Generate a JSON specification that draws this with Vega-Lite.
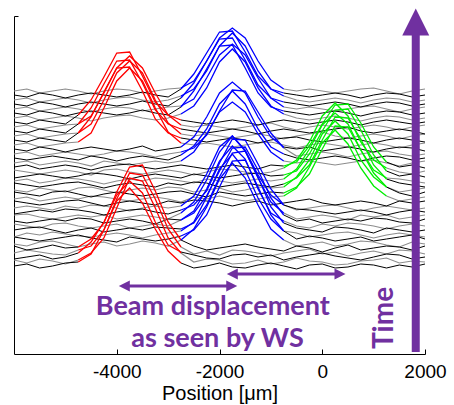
{
"$schema":"https://vega.github.io/schema/vega-lite/v6.json",
"width":411,"height":338,
"autosize":{"type":"none"},
"padding":{"left":14,"top":16,"right":29,"bottom":51},
"background":"white",
"config":{"view":{"stroke":null}},
"datasets":{
"k1":[
{"s":1,"x":-6000,"y":88},{"s":1,"x":-5750,"y":90},{"s":1,"x":-5500,"y":86},{"s":1,"x":-5250,"y":88},{"s":1,"x":-5000,"y":91},{"s":1,"x":-4750,"y":92},
{"s":101,"x":-2750,"y":91},{"s":101,"x":-2500,"y":86},{"s":101,"x":-2250,"y":88},{"s":101,"x":-2000,"y":91},{"s":101,"x":-1750,"y":87},{"s":101,"x":-1500,"y":86},{"s":101,"x":-1250,"y":89},{"s":101,"x":-1000,"y":91},{"s":101,"x":-750,"y":88},{"s":101,"x":-500,"y":85},{"s":101,"x":-250,"y":89},{"s":101,"x":0,"y":90},{"s":101,"x":250,"y":86},{"s":101,"x":500,"y":87},{"s":101,"x":750,"y":90},{"s":101,"x":1000,"y":89},{"s":101,"x":1250,"y":86},{"s":101,"x":1500,"y":89},{"s":101,"x":1750,"y":87},{"s":101,"x":2000,"y":90},
{"s":3,"x":-6000,"y":95},{"s":3,"x":-5750,"y":97},{"s":3,"x":-5500,"y":99},{"s":3,"x":-5250,"y":95},{"s":3,"x":-5000,"y":97},{"s":3,"x":-4750,"y":101},
{"s":103,"x":-2750,"y":102},{"s":103,"x":-2500,"y":99},{"s":103,"x":-2250,"y":96},{"s":103,"x":-2000,"y":95},{"s":103,"x":-1750,"y":99},{"s":103,"x":-1500,"y":100},{"s":103,"x":-1250,"y":97},{"s":103,"x":-1000,"y":99},{"s":103,"x":-750,"y":94},{"s":103,"x":-500,"y":97},{"s":103,"x":-250,"y":99},{"s":103,"x":0,"y":101},{"s":103,"x":250,"y":98},{"s":103,"x":500,"y":96},{"s":103,"x":750,"y":94},{"s":103,"x":1000,"y":97},{"s":103,"x":1250,"y":100},{"s":103,"x":1500,"y":99},{"s":103,"x":1750,"y":95},{"s":103,"x":2000,"y":97},
{"s":5,"x":-6000,"y":108},{"s":5,"x":-5750,"y":104},{"s":5,"x":-5500,"y":106},{"s":5,"x":-5250,"y":109},{"s":5,"x":-5000,"y":106},{"s":5,"x":-4750,"y":107},
{"s":105,"x":-2750,"y":114},{"s":105,"x":-2500,"y":108},{"s":105,"x":-2250,"y":104},{"s":105,"x":-2000,"y":106},{"s":105,"x":-1750,"y":108},{"s":105,"x":-1500,"y":110},{"s":105,"x":-1250,"y":107},{"s":105,"x":-1000,"y":105},{"s":105,"x":-750,"y":103},{"s":105,"x":-500,"y":108},{"s":105,"x":-250,"y":106},{"s":105,"x":0,"y":102},{"s":105,"x":250,"y":106},{"s":105,"x":500,"y":109},{"s":105,"x":750,"y":104},{"s":105,"x":1000,"y":106},{"s":105,"x":1250,"y":108},{"s":105,"x":1500,"y":107},{"s":105,"x":1750,"y":104},{"s":105,"x":2000,"y":108},
{"s":7,"x":-6000,"y":117},{"s":7,"x":-5750,"y":115},{"s":7,"x":-5500,"y":113},{"s":7,"x":-5250,"y":115},{"s":7,"x":-5000,"y":117},{"s":7,"x":-4750,"y":119},{"s":7,"x":-4500,"y":116},{"s":7,"x":-4250,"y":114},{"s":7,"x":-4000,"y":112},{"s":7,"x":-3750,"y":117},{"s":7,"x":-3500,"y":115},{"s":7,"x":-3250,"y":113},{"s":7,"x":-3000,"y":115},{"s":7,"x":-2750,"y":118},
{"s":107,"x":-750,"y":123},{"s":107,"x":-500,"y":115},{"s":107,"x":-250,"y":118},{"s":107,"x":0,"y":116},{"s":107,"x":250,"y":113},{"s":107,"x":500,"y":115},{"s":107,"x":750,"y":117},{"s":107,"x":1000,"y":113},{"s":107,"x":1250,"y":115},{"s":107,"x":1500,"y":117},{"s":107,"x":1750,"y":119},{"s":107,"x":2000,"y":115},
{"s":9,"x":-6000,"y":124},{"s":9,"x":-5750,"y":126},{"s":9,"x":-5500,"y":127},{"s":9,"x":-5250,"y":124},{"s":9,"x":-5000,"y":121},{"s":9,"x":-4750,"y":124},{"s":9,"x":-4500,"y":126},{"s":9,"x":-4250,"y":122},{"s":9,"x":-4000,"y":124},{"s":9,"x":-3750,"y":126},{"s":9,"x":-3500,"y":124},{"s":9,"x":-3250,"y":127},{"s":9,"x":-3000,"y":126},{"s":9,"x":-2750,"y":125},
{"s":109,"x":-750,"y":131},{"s":109,"x":-500,"y":126},{"s":109,"x":-250,"y":124},{"s":109,"x":0,"y":122},{"s":109,"x":250,"y":127},{"s":109,"x":500,"y":126},{"s":109,"x":750,"y":124},{"s":109,"x":1000,"y":121},{"s":109,"x":1250,"y":126},{"s":109,"x":1500,"y":124},{"s":109,"x":1750,"y":122},{"s":109,"x":2000,"y":124},
{"s":11,"x":-6000,"y":133},{"s":11,"x":-5750,"y":131},{"s":11,"x":-5500,"y":133},{"s":11,"x":-5250,"y":135},{"s":11,"x":-5000,"y":133},{"s":11,"x":-4750,"y":136},{"s":11,"x":-4500,"y":135},{"s":11,"x":-4250,"y":131},{"s":11,"x":-4000,"y":133},{"s":11,"x":-3750,"y":135},{"s":11,"x":-3500,"y":133},{"s":11,"x":-3250,"y":130},{"s":11,"x":-3000,"y":135},{"s":11,"x":-2750,"y":134},
{"s":111,"x":-750,"y":139},{"s":111,"x":-500,"y":133},{"s":111,"x":-250,"y":135},{"s":111,"x":0,"y":131},{"s":111,"x":250,"y":133},{"s":111,"x":500,"y":135},{"s":111,"x":750,"y":133},{"s":111,"x":1000,"y":136},{"s":111,"x":1250,"y":135},{"s":111,"x":1500,"y":132},{"s":111,"x":1750,"y":131},{"s":111,"x":2000,"y":135},
{"s":13,"x":-6000,"y":140},{"s":13,"x":-5750,"y":142},{"s":13,"x":-5500,"y":144},{"s":13,"x":-5250,"y":142},{"s":13,"x":-5000,"y":145},{"s":13,"x":-4750,"y":144},{"s":13,"x":-4500,"y":142},{"s":13,"x":-4250,"y":139},{"s":13,"x":-4000,"y":142},{"s":13,"x":-3750,"y":144},{"s":13,"x":-3500,"y":145},{"s":13,"x":-3250,"y":142},{"s":13,"x":-3000,"y":140},{"s":13,"x":-2750,"y":144},
{"s":113,"x":-750,"y":149},{"s":113,"x":-500,"y":145},{"s":113,"x":-250,"y":144},{"s":113,"x":0,"y":142},{"s":113,"x":250,"y":140},{"s":113,"x":500,"y":142},{"s":113,"x":750,"y":144},{"s":113,"x":1000,"y":142},{"s":113,"x":1250,"y":139},{"s":113,"x":1500,"y":142},{"s":113,"x":1750,"y":144},{"s":113,"x":2000,"y":142},
{"s":15,"x":-6000,"y":153},{"s":15,"x":-5750,"y":151},{"s":15,"x":-5500,"y":149},{"s":15,"x":-5250,"y":151},{"s":15,"x":-5000,"y":153},{"s":15,"x":-4750,"y":154},{"s":15,"x":-4500,"y":151},{"s":15,"x":-4250,"y":148},{"s":15,"x":-4000,"y":151},{"s":15,"x":-3750,"y":153},{"s":15,"x":-3500,"y":151},{"s":15,"x":-3250,"y":149},{"s":15,"x":-3000,"y":153},{"s":15,"x":-2750,"y":151},{"s":15,"x":-2500,"y":154},{"s":15,"x":-2250,"y":153},{"s":15,"x":-2000,"y":151},{"s":15,"x":-1750,"y":148},{"s":15,"x":-1500,"y":151},{"s":15,"x":-1250,"y":153},{"s":15,"x":-1000,"y":149},{"s":15,"x":-750,"y":151},{"s":15,"x":-500,"y":153},{"s":15,"x":-250,"y":155},{"s":15,"x":0,"y":151},{"s":15,"x":250,"y":149},{"s":15,"x":500,"y":151},{"s":15,"x":750,"y":153},{"s":15,"x":1000,"y":151},{"s":15,"x":1250,"y":148},{"s":15,"x":1500,"y":153},{"s":15,"x":1750,"y":151},{"s":15,"x":2000,"y":153},
{"s":17,"x":-6000,"y":162},{"s":17,"x":-5750,"y":160},{"s":17,"x":-5500,"y":158},{"s":17,"x":-5250,"y":162},{"s":17,"x":-5000,"y":163},{"s":17,"x":-4750,"y":160},{"s":17,"x":-4500,"y":157},{"s":17,"x":-4250,"y":160},{"s":17,"x":-4000,"y":162},{"s":17,"x":-3750,"y":160},{"s":17,"x":-3500,"y":158},{"s":17,"x":-3250,"y":160},{"s":17,"x":-3000,"y":162},{"s":17,"x":-2750,"y":163},{"s":17,"x":-2500,"y":160},{"s":17,"x":-2250,"y":157},{"s":17,"x":-2000,"y":162},{"s":17,"x":-1750,"y":160},{"s":17,"x":-1500,"y":158},{"s":17,"x":-1250,"y":160},{"s":17,"x":-1000,"y":162},{"s":17,"x":-750,"y":161},
{"s":117,"x":1250,"y":167},{"s":117,"x":1500,"y":161},{"s":117,"x":1750,"y":158},{"s":117,"x":2000,"y":162},
{"s":19,"x":-6000,"y":171},{"s":19,"x":-5750,"y":169},{"s":19,"x":-5500,"y":167},{"s":19,"x":-5250,"y":169},{"s":19,"x":-5000,"y":171},{"s":19,"x":-4750,"y":172},{"s":19,"x":-4500,"y":169},{"s":19,"x":-4250,"y":166},{"s":19,"x":-4000,"y":169},{"s":19,"x":-3750,"y":171},{"s":19,"x":-3500,"y":169},{"s":19,"x":-3250,"y":167},{"s":19,"x":-3000,"y":171},{"s":19,"x":-2750,"y":169},{"s":19,"x":-2500,"y":172},{"s":19,"x":-2250,"y":171},{"s":19,"x":-2000,"y":167},{"s":19,"x":-1750,"y":169},{"s":19,"x":-1500,"y":171},{"s":19,"x":-1250,"y":169},{"s":19,"x":-1000,"y":167},{"s":19,"x":-750,"y":170},
{"s":119,"x":1250,"y":175},{"s":119,"x":1500,"y":171},{"s":119,"x":1750,"y":169},{"s":119,"x":2000,"y":167},
{"s":21,"x":-6000,"y":176},{"s":21,"x":-5750,"y":178},{"s":21,"x":-5500,"y":180},{"s":21,"x":-5250,"y":178},{"s":21,"x":-5000,"y":176},{"s":21,"x":-4750,"y":178},{"s":21,"x":-4500,"y":181},{"s":21,"x":-4250,"y":180},{"s":21,"x":-4000,"y":178},{"s":21,"x":-3750,"y":175},{"s":21,"x":-3500,"y":178},{"s":21,"x":-3250,"y":180},{"s":21,"x":-3000,"y":178},{"s":21,"x":-2750,"y":176},{"s":21,"x":-2500,"y":180},{"s":21,"x":-2250,"y":178},{"s":21,"x":-2000,"y":176},{"s":21,"x":-1750,"y":178},{"s":21,"x":-1500,"y":180},{"s":21,"x":-1250,"y":181},{"s":21,"x":-1000,"y":178},{"s":21,"x":-750,"y":179},
{"s":121,"x":1250,"y":183},{"s":121,"x":1500,"y":178},{"s":121,"x":1750,"y":180},{"s":121,"x":2000,"y":177},
{"s":23,"x":-6000,"y":187},{"s":23,"x":-5750,"y":189},{"s":23,"x":-5500,"y":185},{"s":23,"x":-5250,"y":187},{"s":23,"x":-5000,"y":189},{"s":23,"x":-4750,"y":187},{"s":23,"x":-4500,"y":184},{"s":23,"x":-4250,"y":187},{"s":23,"x":-4000,"y":189},{"s":23,"x":-3750,"y":190},{"s":23,"x":-3500,"y":187},{"s":23,"x":-3250,"y":185},{"s":23,"x":-3000,"y":187},{"s":23,"x":-2750,"y":189},{"s":23,"x":-2500,"y":187},{"s":23,"x":-2250,"y":185},{"s":23,"x":-2000,"y":187},{"s":23,"x":-1750,"y":189},{"s":23,"x":-1500,"y":187},{"s":23,"x":-1250,"y":185},{"s":23,"x":-1000,"y":189},{"s":23,"x":-750,"y":188},
{"s":123,"x":1250,"y":192},{"s":123,"x":1500,"y":187},{"s":123,"x":1750,"y":189},{"s":123,"x":2000,"y":186},
{"s":25,"x":-6000,"y":196},{"s":25,"x":-5750,"y":194},{"s":25,"x":-5500,"y":196},{"s":25,"x":-5250,"y":198},{"s":25,"x":-5000,"y":196},{"s":25,"x":-4750,"y":194},{"s":25,"x":-4500,"y":198},{"s":25,"x":-4250,"y":196},{"s":25,"x":-4000,"y":193},{"s":25,"x":-3750,"y":196},{"s":25,"x":-3500,"y":198},{"s":25,"x":-3250,"y":196},{"s":25,"x":-3000,"y":194},{"s":25,"x":-2750,"y":199},
{"s":125,"x":-750,"y":200},{"s":125,"x":-500,"y":196},{"s":125,"x":-250,"y":194},{"s":125,"x":0,"y":196},{"s":125,"x":250,"y":198},{"s":125,"x":500,"y":196},{"s":125,"x":750,"y":193},{"s":125,"x":1000,"y":196},{"s":125,"x":1250,"y":198},{"s":125,"x":1500,"y":197},{"s":125,"x":1750,"y":194},{"s":125,"x":2000,"y":196},
{"s":27,"x":-6000,"y":205},{"s":27,"x":-5750,"y":203},{"s":27,"x":-5500,"y":207},{"s":27,"x":-5250,"y":205},{"s":27,"x":-5000,"y":202},{"s":27,"x":-4750,"y":205},{"s":27,"x":-4500,"y":207},{"s":27,"x":-4250,"y":205},{"s":27,"x":-4000,"y":203},{"s":27,"x":-3750,"y":205},{"s":27,"x":-3500,"y":208},{"s":27,"x":-3250,"y":203},{"s":27,"x":-3000,"y":205},{"s":27,"x":-2750,"y":207},
{"s":127,"x":-750,"y":207},{"s":127,"x":-500,"y":205},{"s":127,"x":-250,"y":207},{"s":127,"x":0,"y":203},{"s":127,"x":250,"y":205},{"s":127,"x":500,"y":207},{"s":127,"x":750,"y":205},{"s":127,"x":1000,"y":202},{"s":127,"x":1250,"y":205},{"s":127,"x":1500,"y":207},{"s":127,"x":1750,"y":206},{"s":127,"x":2000,"y":203},
{"s":29,"x":-6000,"y":214},{"s":29,"x":-5750,"y":212},{"s":29,"x":-5500,"y":216},{"s":29,"x":-5250,"y":214},{"s":29,"x":-5000,"y":212},{"s":29,"x":-4750,"y":221},
{"s":129,"x":-2750,"y":216},{"s":129,"x":-2500,"y":214},{"s":129,"x":-2250,"y":212},{"s":129,"x":-2000,"y":214},{"s":129,"x":-1750,"y":216},{"s":129,"x":-1500,"y":214},{"s":129,"x":-1250,"y":211},{"s":129,"x":-1000,"y":214},{"s":129,"x":-750,"y":216},{"s":129,"x":-500,"y":217},{"s":129,"x":-250,"y":214},{"s":129,"x":0,"y":212},{"s":129,"x":250,"y":214},{"s":129,"x":500,"y":216},{"s":129,"x":750,"y":214},{"s":129,"x":1000,"y":211},{"s":129,"x":1250,"y":214},{"s":129,"x":1500,"y":216},{"s":129,"x":1750,"y":214},{"s":129,"x":2000,"y":212},
{"s":31,"x":-6000,"y":223},{"s":31,"x":-5750,"y":221},{"s":31,"x":-5500,"y":225},{"s":31,"x":-5250,"y":223},{"s":31,"x":-5000,"y":221},{"s":31,"x":-4750,"y":230},
{"s":131,"x":-2750,"y":225},{"s":131,"x":-2500,"y":223},{"s":131,"x":-2250,"y":221},{"s":131,"x":-2000,"y":223},{"s":131,"x":-1750,"y":225},{"s":131,"x":-1500,"y":223},{"s":131,"x":-1250,"y":220},{"s":131,"x":-1000,"y":223},{"s":131,"x":-750,"y":225},{"s":131,"x":-500,"y":223},{"s":131,"x":-250,"y":221},{"s":131,"x":0,"y":223},{"s":131,"x":250,"y":225},{"s":131,"x":500,"y":227},{"s":131,"x":750,"y":223},{"s":131,"x":1000,"y":221},{"s":131,"x":1250,"y":223},{"s":131,"x":1500,"y":225},{"s":131,"x":1750,"y":223},{"s":131,"x":2000,"y":220},
{"s":33,"x":-6000,"y":232},{"s":33,"x":-5750,"y":230},{"s":33,"x":-5500,"y":234},{"s":33,"x":-5250,"y":232},{"s":33,"x":-5000,"y":230},{"s":33,"x":-4750,"y":239},
{"s":133,"x":-2750,"y":234},{"s":133,"x":-2500,"y":232},{"s":133,"x":-2250,"y":230},{"s":133,"x":-2000,"y":232},{"s":133,"x":-1750,"y":234},{"s":133,"x":-1500,"y":232},{"s":133,"x":-1250,"y":229},{"s":133,"x":-1000,"y":232},{"s":133,"x":-750,"y":234},{"s":133,"x":-500,"y":232},{"s":133,"x":-250,"y":230},{"s":133,"x":0,"y":232},{"s":133,"x":250,"y":234},{"s":133,"x":500,"y":232},{"s":133,"x":750,"y":229},{"s":133,"x":1000,"y":232},{"s":133,"x":1250,"y":234},{"s":133,"x":1500,"y":232},{"s":133,"x":1750,"y":230},{"s":133,"x":2000,"y":232},
{"s":35,"x":-6000,"y":241},{"s":35,"x":-5750,"y":239},{"s":35,"x":-5500,"y":243},{"s":35,"x":-5250,"y":241},{"s":35,"x":-5000,"y":238},{"s":35,"x":-4750,"y":241},{"s":35,"x":-4500,"y":243},{"s":35,"x":-4250,"y":241},{"s":35,"x":-4000,"y":239},{"s":35,"x":-3750,"y":241},{"s":35,"x":-3500,"y":244},{"s":35,"x":-3250,"y":241},{"s":35,"x":-3000,"y":239},{"s":35,"x":-2750,"y":247},
{"s":135,"x":-750,"y":243},{"s":135,"x":-500,"y":241},{"s":135,"x":-250,"y":239},{"s":135,"x":0,"y":241},{"s":135,"x":250,"y":243},{"s":135,"x":500,"y":241},{"s":135,"x":750,"y":238},{"s":135,"x":1000,"y":241},{"s":135,"x":1250,"y":243},{"s":135,"x":1500,"y":242},{"s":135,"x":1750,"y":239},{"s":135,"x":2000,"y":241},
{"s":37,"x":-6000,"y":250},{"s":37,"x":-5750,"y":248},{"s":37,"x":-5500,"y":252},{"s":37,"x":-5250,"y":250},{"s":37,"x":-5000,"y":247},{"s":37,"x":-4750,"y":250},{"s":37,"x":-4500,"y":252},{"s":37,"x":-4250,"y":250},{"s":37,"x":-4000,"y":248},{"s":37,"x":-3750,"y":250},{"s":37,"x":-3500,"y":253},{"s":37,"x":-3250,"y":250},{"s":37,"x":-3000,"y":248},{"s":37,"x":-2750,"y":256},
{"s":137,"x":-750,"y":252},{"s":137,"x":-500,"y":250},{"s":137,"x":-250,"y":248},{"s":137,"x":0,"y":250},{"s":137,"x":250,"y":252},{"s":137,"x":500,"y":250},{"s":137,"x":750,"y":247},{"s":137,"x":1000,"y":250},{"s":137,"x":1250,"y":252},{"s":137,"x":1500,"y":251},{"s":137,"x":1750,"y":248},{"s":137,"x":2000,"y":250},
{"s":39,"x":-6000,"y":259},{"s":39,"x":-5750,"y":257},{"s":39,"x":-5500,"y":261},{"s":39,"x":-5250,"y":259},{"s":39,"x":-5000,"y":256},{"s":39,"x":-4750,"y":259},{"s":39,"x":-4500,"y":261},{"s":39,"x":-4250,"y":259},{"s":39,"x":-4000,"y":257},{"s":39,"x":-3750,"y":259},{"s":39,"x":-3500,"y":262},{"s":39,"x":-3250,"y":259},{"s":39,"x":-3000,"y":257},{"s":39,"x":-2750,"y":265},
{"s":139,"x":-750,"y":261},{"s":139,"x":-500,"y":259},{"s":139,"x":-250,"y":257},{"s":139,"x":0,"y":259},{"s":139,"x":250,"y":261},{"s":139,"x":500,"y":259},{"s":139,"x":750,"y":256},{"s":139,"x":1000,"y":259},{"s":139,"x":1250,"y":261},{"s":139,"x":1500,"y":260},{"s":139,"x":1750,"y":257},{"s":139,"x":2000,"y":259}
],
"k2":[
{"s":2,"x":-6000,"y":94},{"s":2,"x":-5750,"y":91},{"s":2,"x":-5500,"y":95},{"s":2,"x":-5250,"y":93},{"s":2,"x":-5000,"y":90},{"s":2,"x":-4750,"y":94},
{"s":102,"x":-2750,"y":101},{"s":102,"x":-2500,"y":92},{"s":102,"x":-2250,"y":95},{"s":102,"x":-2000,"y":94},{"s":102,"x":-1750,"y":90},{"s":102,"x":-1500,"y":91},{"s":102,"x":-1250,"y":94},{"s":102,"x":-1000,"y":90},{"s":102,"x":-750,"y":92},{"s":102,"x":-500,"y":96},{"s":102,"x":-250,"y":93},{"s":102,"x":0,"y":92},{"s":102,"x":250,"y":89},{"s":102,"x":500,"y":90},{"s":102,"x":750,"y":93},{"s":102,"x":1000,"y":94},{"s":102,"x":1250,"y":96},{"s":102,"x":1500,"y":91},{"s":102,"x":1750,"y":93},{"s":102,"x":2000,"y":92},
{"s":4,"x":-6000,"y":101},{"s":4,"x":-5750,"y":104},{"s":4,"x":-5500,"y":102},{"s":4,"x":-5250,"y":100},{"s":4,"x":-5000,"y":99},{"s":4,"x":-4750,"y":104},
{"s":104,"x":-2750,"y":107},{"s":104,"x":-2500,"y":100},{"s":104,"x":-2250,"y":103},{"s":104,"x":-2000,"y":99},{"s":104,"x":-1750,"y":104},{"s":104,"x":-1500,"y":103},{"s":104,"x":-1250,"y":101},{"s":104,"x":-1000,"y":98},{"s":104,"x":-750,"y":101},{"s":104,"x":-500,"y":103},{"s":104,"x":-250,"y":105},{"s":104,"x":0,"y":100},{"s":104,"x":250,"y":102},{"s":104,"x":500,"y":98},{"s":104,"x":750,"y":101},{"s":104,"x":1000,"y":103},{"s":104,"x":1250,"y":100},{"s":104,"x":1500,"y":104},{"s":104,"x":1750,"y":103},{"s":104,"x":2000,"y":100},
{"s":6,"x":-6000,"y":110},{"s":6,"x":-5750,"y":108},{"s":6,"x":-5500,"y":112},{"s":6,"x":-5250,"y":113},{"s":6,"x":-5000,"y":110},{"s":6,"x":-4750,"y":107},{"s":6,"x":-4500,"y":110},{"s":6,"x":-4250,"y":112},{"s":6,"x":-4000,"y":108},{"s":6,"x":-3750,"y":110},{"s":6,"x":-3500,"y":113},{"s":6,"x":-3250,"y":111},{"s":6,"x":-3000,"y":108},{"s":6,"x":-2750,"y":114},
{"s":106,"x":-750,"y":114},{"s":106,"x":-500,"y":108},{"s":106,"x":-250,"y":110},{"s":106,"x":0,"y":112},{"s":106,"x":250,"y":108},{"s":106,"x":500,"y":110},{"s":106,"x":750,"y":113},{"s":106,"x":1000,"y":112},{"s":106,"x":1250,"y":109},{"s":106,"x":1500,"y":107},{"s":106,"x":1750,"y":112},{"s":106,"x":2000,"y":110},
{"s":8,"x":-6000,"y":117},{"s":8,"x":-5750,"y":121},{"s":8,"x":-5500,"y":119},{"s":8,"x":-5250,"y":122},{"s":8,"x":-5000,"y":120},{"s":8,"x":-4750,"y":118},{"s":8,"x":-4500,"y":117},{"s":8,"x":-4250,"y":119},{"s":8,"x":-4000,"y":121},{"s":8,"x":-3750,"y":119},{"s":8,"x":-3500,"y":116},{"s":8,"x":-3250,"y":119},{"s":8,"x":-3000,"y":121},{"s":8,"x":-2750,"y":123},
{"s":108,"x":-750,"y":123},{"s":108,"x":-500,"y":121},{"s":108,"x":-250,"y":117},{"s":108,"x":0,"y":119},{"s":108,"x":250,"y":121},{"s":108,"x":500,"y":122},{"s":108,"x":750,"y":119},{"s":108,"x":1000,"y":116},{"s":108,"x":1250,"y":119},{"s":108,"x":1500,"y":121},{"s":108,"x":1750,"y":119},{"s":108,"x":2000,"y":117},
{"s":10,"x":-6000,"y":130},{"s":10,"x":-5750,"y":128},{"s":10,"x":-5500,"y":126},{"s":10,"x":-5250,"y":130},{"s":10,"x":-5000,"y":131},{"s":10,"x":-4750,"y":128},{"s":10,"x":-4500,"y":126},{"s":10,"x":-4250,"y":128},{"s":10,"x":-4000,"y":130},{"s":10,"x":-3750,"y":126},{"s":10,"x":-3500,"y":128},{"s":10,"x":-3250,"y":130},{"s":10,"x":-3000,"y":128},{"s":10,"x":-2750,"y":134},
{"s":110,"x":-750,"y":133},{"s":110,"x":-500,"y":128},{"s":110,"x":-250,"y":126},{"s":110,"x":0,"y":130},{"s":110,"x":250,"y":128},{"s":110,"x":500,"y":131},{"s":110,"x":750,"y":130},{"s":110,"x":1000,"y":128},{"s":110,"x":1250,"y":125},{"s":110,"x":1500,"y":128},{"s":110,"x":1750,"y":130},{"s":110,"x":2000,"y":128},
{"s":12,"x":-6000,"y":139},{"s":12,"x":-5750,"y":140},{"s":12,"x":-5500,"y":137},{"s":12,"x":-5250,"y":135},{"s":12,"x":-5000,"y":137},{"s":12,"x":-4750,"y":139},{"s":12,"x":-4500,"y":137},{"s":12,"x":-4250,"y":139},{"s":12,"x":-4000,"y":135},{"s":12,"x":-3750,"y":137},{"s":12,"x":-3500,"y":139},{"s":12,"x":-3250,"y":137},{"s":12,"x":-3000,"y":135},{"s":12,"x":-2750,"y":141},
{"s":112,"x":-750,"y":141},{"s":112,"x":-500,"y":135},{"s":112,"x":-250,"y":137},{"s":112,"x":0,"y":139},{"s":112,"x":250,"y":137},{"s":112,"x":500,"y":134},{"s":112,"x":750,"y":139},{"s":112,"x":1000,"y":137},{"s":112,"x":1250,"y":139},{"s":112,"x":1500,"y":135},{"s":112,"x":1750,"y":137},{"s":112,"x":2000,"y":139},
{"s":14,"x":-6000,"y":146},{"s":14,"x":-5750,"y":148},{"s":14,"x":-5500,"y":146},{"s":14,"x":-5250,"y":144},{"s":14,"x":-5000,"y":148},{"s":14,"x":-4750,"y":146},{"s":14,"x":-4500,"y":149},{"s":14,"x":-4250,"y":148},{"s":14,"x":-4000,"y":146},{"s":14,"x":-3750,"y":143},{"s":14,"x":-3500,"y":146},{"s":14,"x":-3250,"y":148},{"s":14,"x":-3000,"y":146},{"s":14,"x":-2750,"y":148},
{"s":114,"x":-750,"y":149},{"s":114,"x":-500,"y":144},{"s":114,"x":-250,"y":146},{"s":114,"x":0,"y":148},{"s":114,"x":250,"y":149},{"s":114,"x":500,"y":146},{"s":114,"x":750,"y":143},{"s":114,"x":1000,"y":146},{"s":114,"x":1250,"y":148},{"s":114,"x":1500,"y":146},{"s":114,"x":1750,"y":144},{"s":114,"x":2000,"y":146},
{"s":16,"x":-6000,"y":155},{"s":16,"x":-5750,"y":157},{"s":16,"x":-5500,"y":153},{"s":16,"x":-5250,"y":155},{"s":16,"x":-5000,"y":157},{"s":16,"x":-4750,"y":155},{"s":16,"x":-4500,"y":158},{"s":16,"x":-4250,"y":157},{"s":16,"x":-4000,"y":155},{"s":16,"x":-3750,"y":153},{"s":16,"x":-3500,"y":155},{"s":16,"x":-3250,"y":157},{"s":16,"x":-3000,"y":155},{"s":16,"x":-2750,"y":152},{"s":16,"x":-2500,"y":157},{"s":16,"x":-2250,"y":155},{"s":16,"x":-2000,"y":158},{"s":16,"x":-1750,"y":155},{"s":16,"x":-1500,"y":153},{"s":16,"x":-1250,"y":155},{"s":16,"x":-1000,"y":157},{"s":16,"x":-750,"y":158},
{"s":116,"x":1250,"y":158},{"s":116,"x":1500,"y":153},{"s":116,"x":1750,"y":155},{"s":116,"x":2000,"y":157},
{"s":18,"x":-6000,"y":164},{"s":18,"x":-5750,"y":162},{"s":18,"x":-5500,"y":166},{"s":18,"x":-5250,"y":164},{"s":18,"x":-5000,"y":162},{"s":18,"x":-4750,"y":166},{"s":18,"x":-4500,"y":167},{"s":18,"x":-4250,"y":164},{"s":18,"x":-4000,"y":161},{"s":18,"x":-3750,"y":164},{"s":18,"x":-3500,"y":166},{"s":18,"x":-3250,"y":164},{"s":18,"x":-3000,"y":167},{"s":18,"x":-2750,"y":166},{"s":18,"x":-2500,"y":162},{"s":18,"x":-2250,"y":164},{"s":18,"x":-2000,"y":166},{"s":18,"x":-1750,"y":162},{"s":18,"x":-1500,"y":164},{"s":18,"x":-1250,"y":167},{"s":18,"x":-1000,"y":166},{"s":18,"x":-750,"y":167},
{"s":118,"x":1250,"y":167},{"s":118,"x":1500,"y":162},{"s":118,"x":1750,"y":164},{"s":118,"x":2000,"y":166},
{"s":20,"x":-6000,"y":173},{"s":20,"x":-5750,"y":175},{"s":20,"x":-5500,"y":171},{"s":20,"x":-5250,"y":173},{"s":20,"x":-5000,"y":176},{"s":20,"x":-4750,"y":175},{"s":20,"x":-4500,"y":173},{"s":20,"x":-4250,"y":170},{"s":20,"x":-4000,"y":173},{"s":20,"x":-3750,"y":175},{"s":20,"x":-3500,"y":173},{"s":20,"x":-3250,"y":176},{"s":20,"x":-3000,"y":175},{"s":20,"x":-2750,"y":173},{"s":20,"x":-2500,"y":171},{"s":20,"x":-2250,"y":175},{"s":20,"x":-2000,"y":173},{"s":20,"x":-1750,"y":171},{"s":20,"x":-1500,"y":173},{"s":20,"x":-1250,"y":175},{"s":20,"x":-1000,"y":173},{"s":20,"x":-750,"y":175},
{"s":120,"x":1250,"y":176},{"s":120,"x":1500,"y":175},{"s":120,"x":1750,"y":173},{"s":120,"x":2000,"y":171},
{"s":22,"x":-6000,"y":184},{"s":22,"x":-5750,"y":182},{"s":22,"x":-5500,"y":180},{"s":22,"x":-5250,"y":182},{"s":22,"x":-5000,"y":184},{"s":22,"x":-4750,"y":182},{"s":22,"x":-4500,"y":179},{"s":22,"x":-4250,"y":184},{"s":22,"x":-4000,"y":185},{"s":22,"x":-3750,"y":182},{"s":22,"x":-3500,"y":180},{"s":22,"x":-3250,"y":182},{"s":22,"x":-3000,"y":184},{"s":22,"x":-2750,"y":182},{"s":22,"x":-2500,"y":179},{"s":22,"x":-2250,"y":182},{"s":22,"x":-2000,"y":185},{"s":22,"x":-1750,"y":184},{"s":22,"x":-1500,"y":182},{"s":22,"x":-1250,"y":180},{"s":22,"x":-1000,"y":182},{"s":22,"x":-750,"y":186},
{"s":122,"x":1250,"y":186},{"s":122,"x":1500,"y":182},{"s":122,"x":1750,"y":180},{"s":122,"x":2000,"y":183},
{"s":24,"x":-6000,"y":191},{"s":24,"x":-5750,"y":193},{"s":24,"x":-5500,"y":189},{"s":24,"x":-5250,"y":191},{"s":24,"x":-5000,"y":193},{"s":24,"x":-4750,"y":191},{"s":24,"x":-4500,"y":188},{"s":24,"x":-4250,"y":193},{"s":24,"x":-4000,"y":191},{"s":24,"x":-3750,"y":189},{"s":24,"x":-3500,"y":191},{"s":24,"x":-3250,"y":193},{"s":24,"x":-3000,"y":191},{"s":24,"x":-2750,"y":193},
{"s":124,"x":-750,"y":193},{"s":124,"x":-500,"y":191},{"s":124,"x":-250,"y":193},{"s":124,"x":0,"y":191},{"s":124,"x":250,"y":189},{"s":124,"x":500,"y":191},{"s":124,"x":750,"y":193},{"s":124,"x":1000,"y":194},{"s":124,"x":1250,"y":191},{"s":124,"x":1500,"y":188},{"s":124,"x":1750,"y":191},{"s":124,"x":2000,"y":193},
{"s":26,"x":-6000,"y":200},{"s":26,"x":-5750,"y":202},{"s":26,"x":-5500,"y":198},{"s":26,"x":-5250,"y":200},{"s":26,"x":-5000,"y":202},{"s":26,"x":-4750,"y":200},{"s":26,"x":-4500,"y":198},{"s":26,"x":-4250,"y":200},{"s":26,"x":-4000,"y":203},{"s":26,"x":-3750,"y":202},{"s":26,"x":-3500,"y":200},{"s":26,"x":-3250,"y":197},{"s":26,"x":-3000,"y":200},{"s":26,"x":-2750,"y":202},
{"s":126,"x":-750,"y":206},{"s":126,"x":-500,"y":198},{"s":126,"x":-250,"y":200},{"s":126,"x":0,"y":202},{"s":126,"x":250,"y":200},{"s":126,"x":500,"y":197},{"s":126,"x":750,"y":200},{"s":126,"x":1000,"y":202},{"s":126,"x":1250,"y":203},{"s":126,"x":1500,"y":200},{"s":126,"x":1750,"y":198},{"s":126,"x":2000,"y":200},
{"s":28,"x":-6000,"y":209},{"s":28,"x":-5750,"y":211},{"s":28,"x":-5500,"y":207},{"s":28,"x":-5250,"y":209},{"s":28,"x":-5000,"y":211},{"s":28,"x":-4750,"y":212},
{"s":128,"x":-2750,"y":211},{"s":128,"x":-2500,"y":209},{"s":128,"x":-2250,"y":211},{"s":128,"x":-2000,"y":209},{"s":128,"x":-1750,"y":207},{"s":128,"x":-1500,"y":209},{"s":128,"x":-1250,"y":211},{"s":128,"x":-1000,"y":212},{"s":128,"x":-750,"y":209},{"s":128,"x":-500,"y":206},{"s":128,"x":-250,"y":209},{"s":128,"x":0,"y":211},{"s":128,"x":250,"y":209},{"s":128,"x":500,"y":207},{"s":128,"x":750,"y":209},{"s":128,"x":1000,"y":211},{"s":128,"x":1250,"y":209},{"s":128,"x":1500,"y":206},{"s":128,"x":1750,"y":209},{"s":128,"x":2000,"y":211},
{"s":30,"x":-6000,"y":218},{"s":30,"x":-5750,"y":220},{"s":30,"x":-5500,"y":216},{"s":30,"x":-5250,"y":218},{"s":30,"x":-5000,"y":220},{"s":30,"x":-4750,"y":221},
{"s":130,"x":-2750,"y":220},{"s":130,"x":-2500,"y":218},{"s":130,"x":-2250,"y":220},{"s":130,"x":-2000,"y":218},{"s":130,"x":-1750,"y":216},{"s":130,"x":-1500,"y":218},{"s":130,"x":-1250,"y":220},{"s":130,"x":-1000,"y":218},{"s":130,"x":-750,"y":215},{"s":130,"x":-500,"y":218},{"s":130,"x":-250,"y":220},{"s":130,"x":0,"y":222},{"s":130,"x":250,"y":218},{"s":130,"x":500,"y":216},{"s":130,"x":750,"y":218},{"s":130,"x":1000,"y":220},{"s":130,"x":1250,"y":218},{"s":130,"x":1500,"y":215},{"s":130,"x":1750,"y":218},{"s":130,"x":2000,"y":220},
{"s":32,"x":-6000,"y":227},{"s":32,"x":-5750,"y":229},{"s":32,"x":-5500,"y":225},{"s":32,"x":-5250,"y":227},{"s":32,"x":-5000,"y":229},{"s":32,"x":-4750,"y":230},
{"s":132,"x":-2750,"y":229},{"s":132,"x":-2500,"y":227},{"s":132,"x":-2250,"y":229},{"s":132,"x":-2000,"y":227},{"s":132,"x":-1750,"y":225},{"s":132,"x":-1500,"y":227},{"s":132,"x":-1250,"y":229},{"s":132,"x":-1000,"y":231},{"s":132,"x":-750,"y":227},{"s":132,"x":-500,"y":224},{"s":132,"x":-250,"y":227},{"s":132,"x":0,"y":229},{"s":132,"x":250,"y":227},{"s":132,"x":500,"y":225},{"s":132,"x":750,"y":227},{"s":132,"x":1000,"y":229},{"s":132,"x":1250,"y":227},{"s":132,"x":1500,"y":224},{"s":132,"x":1750,"y":227},{"s":132,"x":2000,"y":229},
{"s":34,"x":-6000,"y":236},{"s":34,"x":-5750,"y":238},{"s":34,"x":-5500,"y":234},{"s":34,"x":-5250,"y":236},{"s":34,"x":-5000,"y":238},{"s":34,"x":-4750,"y":236},{"s":34,"x":-4500,"y":233},{"s":34,"x":-4250,"y":236},{"s":34,"x":-4000,"y":238},{"s":34,"x":-3750,"y":239},{"s":34,"x":-3500,"y":236},{"s":34,"x":-3250,"y":234},{"s":34,"x":-3000,"y":236},{"s":34,"x":-2750,"y":240},
{"s":134,"x":-750,"y":240},{"s":134,"x":-500,"y":236},{"s":134,"x":-250,"y":234},{"s":134,"x":0,"y":236},{"s":134,"x":250,"y":238},{"s":134,"x":500,"y":236},{"s":134,"x":750,"y":233},{"s":134,"x":1000,"y":236},{"s":134,"x":1250,"y":238},{"s":134,"x":1500,"y":237},{"s":134,"x":1750,"y":234},{"s":134,"x":2000,"y":236},
{"s":36,"x":-6000,"y":245},{"s":36,"x":-5750,"y":247},{"s":36,"x":-5500,"y":243},{"s":36,"x":-5250,"y":245},{"s":36,"x":-5000,"y":247},{"s":36,"x":-4750,"y":245},{"s":36,"x":-4500,"y":242},{"s":36,"x":-4250,"y":245},{"s":36,"x":-4000,"y":247},{"s":36,"x":-3750,"y":246},{"s":36,"x":-3500,"y":243},{"s":36,"x":-3250,"y":245},{"s":36,"x":-3000,"y":247},{"s":36,"x":-2750,"y":248},
{"s":136,"x":-750,"y":247},{"s":136,"x":-500,"y":245},{"s":136,"x":-250,"y":247},{"s":136,"x":0,"y":245},{"s":136,"x":250,"y":243},{"s":136,"x":500,"y":245},{"s":136,"x":750,"y":247},{"s":136,"x":1000,"y":248},{"s":136,"x":1250,"y":245},{"s":136,"x":1500,"y":242},{"s":136,"x":1750,"y":245},{"s":136,"x":2000,"y":247},
{"s":38,"x":-6000,"y":254},{"s":38,"x":-5750,"y":256},{"s":38,"x":-5500,"y":252},{"s":38,"x":-5250,"y":254},{"s":38,"x":-5000,"y":256},{"s":38,"x":-4750,"y":254},{"s":38,"x":-4500,"y":251},{"s":38,"x":-4250,"y":254},{"s":38,"x":-4000,"y":256},{"s":38,"x":-3750,"y":257},{"s":38,"x":-3500,"y":254},{"s":38,"x":-3250,"y":252},{"s":38,"x":-3000,"y":254},{"s":38,"x":-2750,"y":258},
{"s":138,"x":-750,"y":258},{"s":138,"x":-500,"y":254},{"s":138,"x":-250,"y":252},{"s":138,"x":0,"y":254},{"s":138,"x":250,"y":256},{"s":138,"x":500,"y":254},{"s":138,"x":750,"y":251},{"s":138,"x":1000,"y":254},{"s":138,"x":1250,"y":256},{"s":138,"x":1500,"y":255},{"s":138,"x":1750,"y":252},{"s":138,"x":2000,"y":254},
{"s":40,"x":-6000,"y":263},{"s":40,"x":-5750,"y":265},{"s":40,"x":-5500,"y":261},{"s":40,"x":-5250,"y":263},{"s":40,"x":-5000,"y":265},{"s":40,"x":-4750,"y":263},{"s":40,"x":-4500,"y":260},{"s":40,"x":-4250,"y":263},{"s":40,"x":-4000,"y":265},{"s":40,"x":-3750,"y":264},{"s":40,"x":-3500,"y":261},{"s":40,"x":-3250,"y":263},{"s":40,"x":-3000,"y":265},{"s":40,"x":-2750,"y":266},
{"s":140,"x":-750,"y":265},{"s":140,"x":-500,"y":263},{"s":140,"x":-250,"y":265},{"s":140,"x":0,"y":263},{"s":140,"x":250,"y":261},{"s":140,"x":500,"y":263},{"s":140,"x":750,"y":265},{"s":140,"x":1000,"y":266},{"s":140,"x":1250,"y":263},{"s":140,"x":1500,"y":260},{"s":140,"x":1750,"y":263},{"s":140,"x":2000,"y":265}
],
"r":[
{"s":1,"x":-4750,"y":92},{"s":1,"x":-4500,"y":100},{"s":1,"x":-4250,"y":124},{"s":1,"x":-4000,"y":153},{"s":1,"x":-3750,"y":166},{"s":1,"x":-3500,"y":151},{"s":1,"x":-3250,"y":125},{"s":1,"x":-3000,"y":103},{"s":1,"x":-2750,"y":91},
{"s":2,"x":-4750,"y":94},{"s":2,"x":-4500,"y":101},{"s":2,"x":-4250,"y":116},{"s":2,"x":-4000,"y":146},{"s":2,"x":-3750,"y":176},{"s":2,"x":-3500,"y":173},{"s":2,"x":-3250,"y":146},{"s":2,"x":-3000,"y":116},{"s":2,"x":-2750,"y":101},
{"s":3,"x":-4750,"y":101},{"s":3,"x":-4500,"y":112},{"s":3,"x":-4250,"y":132},{"s":3,"x":-4000,"y":159},{"s":3,"x":-3750,"y":173},{"s":3,"x":-3500,"y":161},{"s":3,"x":-3250,"y":132},{"s":3,"x":-3000,"y":109},{"s":3,"x":-2750,"y":102},
{"s":4,"x":-4750,"y":104},{"s":4,"x":-4500,"y":108},{"s":4,"x":-4250,"y":124},{"s":4,"x":-4000,"y":155},{"s":4,"x":-3750,"y":181},{"s":4,"x":-3500,"y":179},{"s":4,"x":-3250,"y":155},{"s":4,"x":-3000,"y":125},{"s":4,"x":-2750,"y":107},
{"s":5,"x":-4750,"y":107},{"s":5,"x":-4500,"y":115},{"s":5,"x":-4250,"y":131},{"s":5,"x":-4000,"y":162},{"s":5,"x":-3750,"y":187},{"s":5,"x":-3500,"y":189},{"s":5,"x":-3250,"y":163},{"s":5,"x":-3000,"y":132},{"s":5,"x":-2750,"y":114},
{"s":28,"x":-4750,"y":212},{"s":28,"x":-4500,"y":221},{"s":28,"x":-4250,"y":246},{"s":28,"x":-4000,"y":273},{"s":28,"x":-3750,"y":286},{"s":28,"x":-3500,"y":273},{"s":28,"x":-3250,"y":246},{"s":28,"x":-3000,"y":222},{"s":28,"x":-2750,"y":211},
{"s":29,"x":-4750,"y":221},{"s":29,"x":-4500,"y":237},{"s":29,"x":-4250,"y":262},{"s":29,"x":-4000,"y":286},{"s":29,"x":-3750,"y":287},{"s":29,"x":-3500,"y":263},{"s":29,"x":-3250,"y":235},{"s":29,"x":-3000,"y":221},{"s":29,"x":-2750,"y":216},
{"s":30,"x":-4750,"y":221},{"s":30,"x":-4500,"y":230},{"s":30,"x":-4250,"y":254},{"s":30,"x":-4000,"y":281},{"s":30,"x":-3750,"y":293},{"s":30,"x":-3500,"y":281},{"s":30,"x":-3250,"y":254},{"s":30,"x":-3000,"y":231},{"s":30,"x":-2750,"y":220},
{"s":31,"x":-4750,"y":230},{"s":31,"x":-4500,"y":246},{"s":31,"x":-4250,"y":270},{"s":31,"x":-4000,"y":293},{"s":31,"x":-3750,"y":294},{"s":31,"x":-3500,"y":271},{"s":31,"x":-3250,"y":244},{"s":31,"x":-3000,"y":230},{"s":31,"x":-2750,"y":225},
{"s":32,"x":-4750,"y":230},{"s":32,"x":-4500,"y":238},{"s":32,"x":-4250,"y":261},{"s":32,"x":-4000,"y":286},{"s":32,"x":-3750,"y":298},{"s":32,"x":-3500,"y":286},{"s":32,"x":-3250,"y":261},{"s":32,"x":-3000,"y":239},{"s":32,"x":-2750,"y":229},
{"s":33,"x":-4750,"y":239},{"s":33,"x":-4500,"y":254},{"s":33,"x":-4250,"y":277},{"s":33,"x":-4000,"y":301},{"s":33,"x":-3750,"y":302},{"s":33,"x":-3500,"y":278},{"s":33,"x":-3250,"y":252},{"s":33,"x":-3000,"y":239},{"s":33,"x":-2750,"y":234}
],
"b":[
{"s":6,"x":-2750,"y":114},{"s":6,"x":-2500,"y":125},{"s":6,"x":-2250,"y":147},{"s":6,"x":-2000,"y":175},{"s":6,"x":-1750,"y":191},{"s":6,"x":-1500,"y":176},{"s":6,"x":-1250,"y":149},{"s":6,"x":-1000,"y":125},{"s":6,"x":-750,"y":114},
{"s":7,"x":-2750,"y":118},{"s":7,"x":-2500,"y":124},{"s":7,"x":-2250,"y":139},{"s":7,"x":-2000,"y":167},{"s":7,"x":-1750,"y":193},{"s":7,"x":-1500,"y":194},{"s":7,"x":-1250,"y":167},{"s":7,"x":-1000,"y":139},{"s":7,"x":-750,"y":123},
{"s":8,"x":-2750,"y":123},{"s":8,"x":-2500,"y":132},{"s":8,"x":-2250,"y":157},{"s":8,"x":-2000,"y":185},{"s":8,"x":-1750,"y":200},{"s":8,"x":-1500,"y":184},{"s":8,"x":-1250,"y":156},{"s":8,"x":-1000,"y":135},{"s":8,"x":-750,"y":123},
{"s":9,"x":-2750,"y":125},{"s":9,"x":-2500,"y":131},{"s":9,"x":-2250,"y":149},{"s":9,"x":-2000,"y":177},{"s":9,"x":-1750,"y":201},{"s":9,"x":-1500,"y":203},{"s":9,"x":-1250,"y":177},{"s":9,"x":-1000,"y":147},{"s":9,"x":-750,"y":131},
{"s":10,"x":-2750,"y":134},{"s":10,"x":-2500,"y":143},{"s":10,"x":-2250,"y":165},{"s":10,"x":-2000,"y":193},{"s":10,"x":-1750,"y":208},{"s":10,"x":-1500,"y":195},{"s":10,"x":-1250,"y":165},{"s":10,"x":-1000,"y":141},{"s":10,"x":-750,"y":133},
{"s":11,"x":-2750,"y":134},{"s":11,"x":-2500,"y":141},{"s":11,"x":-2250,"y":158},{"s":11,"x":-2000,"y":183},{"s":11,"x":-1750,"y":206},{"s":11,"x":-1500,"y":207},{"s":11,"x":-1250,"y":184},{"s":11,"x":-1000,"y":156},{"s":11,"x":-750,"y":139},
{"s":12,"x":-2750,"y":141},{"s":12,"x":-2500,"y":152},{"s":12,"x":-2250,"y":174},{"s":12,"x":-2000,"y":202},{"s":12,"x":-1750,"y":218},{"s":12,"x":-1500,"y":203},{"s":12,"x":-1250,"y":176},{"s":12,"x":-1000,"y":152},{"s":12,"x":-750,"y":141},
{"s":13,"x":-2750,"y":144},{"s":13,"x":-2500,"y":149},{"s":13,"x":-2250,"y":163},{"s":13,"x":-2000,"y":191},{"s":13,"x":-1750,"y":215},{"s":13,"x":-1500,"y":214},{"s":13,"x":-1250,"y":190},{"s":13,"x":-1000,"y":165},{"s":13,"x":-750,"y":149},
{"s":14,"x":-2750,"y":148},{"s":14,"x":-2500,"y":158},{"s":14,"x":-2250,"y":180},{"s":14,"x":-2000,"y":207},{"s":14,"x":-1750,"y":218},{"s":14,"x":-1500,"y":204},{"s":14,"x":-1250,"y":179},{"s":14,"x":-1000,"y":159},{"s":14,"x":-750,"y":149},
{"s":24,"x":-2750,"y":193},{"s":24,"x":-2500,"y":202},{"s":24,"x":-2250,"y":220},{"s":24,"x":-2000,"y":242},{"s":24,"x":-1750,"y":252},{"s":24,"x":-1500,"y":242},{"s":24,"x":-1250,"y":220},{"s":24,"x":-1000,"y":202},{"s":24,"x":-750,"y":193},
{"s":25,"x":-2750,"y":199},{"s":25,"x":-2500,"y":208},{"s":25,"x":-2250,"y":225},{"s":25,"x":-2000,"y":250},{"s":25,"x":-1750,"y":263},{"s":25,"x":-1500,"y":250},{"s":25,"x":-1250,"y":225},{"s":25,"x":-1000,"y":207},{"s":25,"x":-750,"y":200},
{"s":26,"x":-2750,"y":202},{"s":26,"x":-2500,"y":206},{"s":26,"x":-2250,"y":219},{"s":26,"x":-2000,"y":243},{"s":26,"x":-1750,"y":264},{"s":26,"x":-1500,"y":263},{"s":26,"x":-1250,"y":242},{"s":26,"x":-1000,"y":221},{"s":26,"x":-750,"y":206},
{"s":27,"x":-2750,"y":207},{"s":27,"x":-2500,"y":217},{"s":27,"x":-2250,"y":237},{"s":27,"x":-2000,"y":261},{"s":27,"x":-1750,"y":272},{"s":27,"x":-1500,"y":261},{"s":27,"x":-1250,"y":237},{"s":27,"x":-1000,"y":217},{"s":27,"x":-750,"y":207},
{"s":34,"x":-2750,"y":240},{"s":34,"x":-2500,"y":248},{"s":34,"x":-2250,"y":266},{"s":34,"x":-2000,"y":292},{"s":34,"x":-1750,"y":305},{"s":34,"x":-1500,"y":292},{"s":34,"x":-1250,"y":266},{"s":34,"x":-1000,"y":248},{"s":34,"x":-750,"y":240},
{"s":35,"x":-2750,"y":247},{"s":35,"x":-2500,"y":263},{"s":35,"x":-2250,"y":285},{"s":35,"x":-2000,"y":308},{"s":35,"x":-1750,"y":309},{"s":35,"x":-1500,"y":286},{"s":35,"x":-1250,"y":261},{"s":35,"x":-1000,"y":247},{"s":35,"x":-750,"y":243},
{"s":36,"x":-2750,"y":248},{"s":36,"x":-2500,"y":255},{"s":36,"x":-2250,"y":276},{"s":36,"x":-2000,"y":299},{"s":36,"x":-1750,"y":310},{"s":36,"x":-1500,"y":299},{"s":36,"x":-1250,"y":276},{"s":36,"x":-1000,"y":256},{"s":36,"x":-750,"y":247},
{"s":37,"x":-2750,"y":256},{"s":37,"x":-2500,"y":271},{"s":37,"x":-2250,"y":293},{"s":37,"x":-2000,"y":315},{"s":37,"x":-1750,"y":316},{"s":37,"x":-1500,"y":294},{"s":37,"x":-1250,"y":269},{"s":37,"x":-1000,"y":256},{"s":37,"x":-750,"y":252},
{"s":38,"x":-2750,"y":258},{"s":38,"x":-2500,"y":265},{"s":38,"x":-2250,"y":283},{"s":38,"x":-2000,"y":308},{"s":38,"x":-1750,"y":321},{"s":38,"x":-1500,"y":308},{"s":38,"x":-1250,"y":283},{"s":38,"x":-1000,"y":265},{"s":38,"x":-750,"y":258},
{"s":39,"x":-2750,"y":265},{"s":39,"x":-2500,"y":280},{"s":39,"x":-2250,"y":301},{"s":39,"x":-2000,"y":322},{"s":39,"x":-1750,"y":323},{"s":39,"x":-1500,"y":302},{"s":39,"x":-1250,"y":278},{"s":39,"x":-1000,"y":265},{"s":39,"x":-750,"y":261},
{"s":40,"x":-2750,"y":266},{"s":40,"x":-2500,"y":273},{"s":40,"x":-2250,"y":293},{"s":40,"x":-2000,"y":316},{"s":40,"x":-1750,"y":326},{"s":40,"x":-1500,"y":316},{"s":40,"x":-1250,"y":293},{"s":40,"x":-1000,"y":274},{"s":40,"x":-750,"y":265}
],
"g":[
{"s":16,"x":-750,"y":158},{"s":16,"x":-500,"y":166},{"s":16,"x":-250,"y":187},{"s":16,"x":0,"y":211},{"s":16,"x":250,"y":224},{"s":16,"x":500,"y":210},{"s":16,"x":750,"y":186},{"s":16,"x":1000,"y":168},{"s":16,"x":1250,"y":158},
{"s":17,"x":-750,"y":161},{"s":17,"x":-500,"y":167},{"s":17,"x":-250,"y":180},{"s":17,"x":0,"y":205},{"s":17,"x":250,"y":228},{"s":17,"x":500,"y":227},{"s":17,"x":750,"y":204},{"s":17,"x":1000,"y":181},{"s":17,"x":1250,"y":167},
{"s":18,"x":-750,"y":167},{"s":18,"x":-500,"y":177},{"s":18,"x":-250,"y":194},{"s":18,"x":0,"y":220},{"s":18,"x":250,"y":233},{"s":18,"x":500,"y":220},{"s":18,"x":750,"y":194},{"s":18,"x":1000,"y":177},{"s":18,"x":1250,"y":167},
{"s":19,"x":-750,"y":170},{"s":19,"x":-500,"y":176},{"s":19,"x":-250,"y":189},{"s":19,"x":0,"y":214},{"s":19,"x":250,"y":237},{"s":19,"x":500,"y":236},{"s":19,"x":750,"y":215},{"s":19,"x":1000,"y":189},{"s":19,"x":1250,"y":175},
{"s":20,"x":-750,"y":175},{"s":20,"x":-500,"y":185},{"s":20,"x":-250,"y":205},{"s":20,"x":0,"y":229},{"s":20,"x":250,"y":241},{"s":20,"x":500,"y":230},{"s":20,"x":750,"y":204},{"s":20,"x":1000,"y":184},{"s":20,"x":1250,"y":176},
{"s":21,"x":-750,"y":179},{"s":21,"x":-500,"y":183},{"s":21,"x":-250,"y":200},{"s":21,"x":0,"y":223},{"s":21,"x":250,"y":244},{"s":21,"x":500,"y":245},{"s":21,"x":750,"y":224},{"s":21,"x":1000,"y":199},{"s":21,"x":1250,"y":183},
{"s":22,"x":-750,"y":186},{"s":22,"x":-500,"y":194},{"s":22,"x":-250,"y":212},{"s":22,"x":0,"y":238},{"s":22,"x":250,"y":251},{"s":22,"x":500,"y":238},{"s":22,"x":750,"y":212},{"s":22,"x":1000,"y":194},{"s":22,"x":1250,"y":186},
{"s":23,"x":-750,"y":188},{"s":23,"x":-500,"y":192},{"s":23,"x":-250,"y":208},{"s":23,"x":0,"y":230},{"s":23,"x":250,"y":249},{"s":23,"x":500,"y":250},{"s":23,"x":750,"y":231},{"s":23,"x":1000,"y":207},{"s":23,"x":1250,"y":192}
]
},
"encoding":{
"x":{"field":"x","type":"quantitative","scale":{"domain":[-6000,2000],"nice":false,"zero":false},
"axis":{"title":"Position [μm]","values":[-4000,-2000,0,2000],"labelExpr":"datum.value","labelFont":"Liberation Sans","labelFontSize":19,"labelColor":"#000000","labelFlush":false,"labelPadding":13,"tickSize":-5,"tickColor":"#000000","domainColor":"#000000","grid":false,"titleFont":"Liberation Sans","titleFontSize":20,"titleFontWeight":"normal","titleColor":"#000000","titleBaseline":"alphabetic","titleY":45}},
"y":{"field":"y","type":"quantitative","scale":{"domain":[0,338],"nice":false,"zero":false},
"axis":{"title":null,"values":[338],"labels":false,"tickSize":-4,"tickColor":"#000000","domainColor":"#000000","grid":false}}
},
"layer":[
{"data":{"name":"k2"},"mark":{"type":"line","stroke":"#8c8c8c","strokeWidth":1.2},"encoding":{"detail":{"field":"s","type":"nominal"}}},
{"data":{"name":"k1"},"mark":{"type":"line","stroke":"#000000","strokeWidth":1},"encoding":{"detail":{"field":"s","type":"nominal"}}},
{"data":{"name":"r"},"mark":{"type":"line","stroke":"#ff0000","strokeWidth":1.3},"encoding":{"detail":{"field":"s","type":"nominal"}}},
{"data":{"name":"b"},"mark":{"type":"line","stroke":"#0000ff","strokeWidth":1.3},"encoding":{"detail":{"field":"s","type":"nominal"}}},
{"data":{"name":"g"},"mark":{"type":"line","stroke":"#00ee00","strokeWidth":1.3},"encoding":{"detail":{"field":"s","type":"nominal"}}},
{"data":{"values":[{"x":-3853,"x2":-1762,"y":68},{"x":-1751,"x2":346,"y":80}]},"mark":{"type":"rule","stroke":"#7030A0","strokeWidth":3},"encoding":{"x2":{"field":"x2"}}},
{"data":{"values":[{"x":-3853,"y":68},{"x":-1751,"y":80}]},"mark":{"type":"point","shape":"M1,-1L-1,0L1,1Z","size":121,"filled":true,"color":"#7030A0","opacity":1,"strokeWidth":0}},
{"data":{"values":[{"x":-1762,"y":68},{"x":346,"y":80}]},"mark":{"type":"point","shape":"M-1,-1L1,0L-1,1Z","size":121,"filled":true,"color":"#7030A0","opacity":1,"strokeWidth":0}},
{"data":{"values":[{"x":1820,"y":2,"y2":319}]},"mark":{"type":"rule","stroke":"#7030A0","strokeWidth":8},"encoding":{"y2":{"field":"y2"}}},
{"data":{"values":[{"x":1820,"y":332}]},"mark":{"type":"point","shape":"M0,-1L1,1L-1,1Z","size":729,"filled":true,"color":"#7030A0","opacity":1,"strokeWidth":0}},
{"data":{"values":[{"x":-2130,"y":39}]},"mark":{"type":"text","text":"Beam displacement","font":"Lato","fontWeight":"bold","fontSize":27,"color":"#7030A0","align":"center","baseline":"alphabetic"}},
{"data":{"values":[{"x":-2039,"y":7}]},"mark":{"type":"text","text":"as seen by WS","font":"Lato","fontWeight":"bold","fontSize":27,"color":"#7030A0","align":"center","baseline":"alphabetic"}},
{"data":{"values":[{"x":1377,"y":36}]},"mark":{"type":"text","text":"Time","angle":270,"font":"Lato","fontWeight":"bold","fontSize":28,"color":"#7030A0","align":"center","baseline":"alphabetic"}}
]
}
